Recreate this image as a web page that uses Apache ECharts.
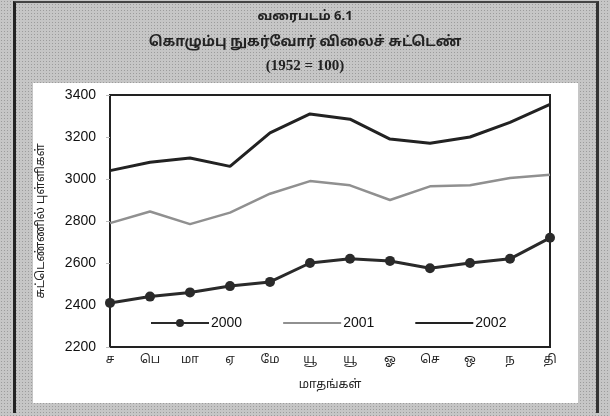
<!DOCTYPE html>
<html>
<head>
<meta charset="utf-8">
<script src="https://cdn.jsdelivr.net/npm/echarts@6/dist/echarts.min.js"></script>
<style>
  html, body { margin: 0; padding: 0; }
  #wrap {
    position: relative; width: 610px; height: 416px; overflow: hidden;
    background-color: #c6c6c6;
    background-image: radial-gradient(#9c9c9c 0.6px, transparent 0.8px);
    background-size: 3px 3px;
  }
  #frame {
    position: absolute; left: 13px; top: 1px; width: 586px; height: 412px;
    border-left: 3px solid #222; border-right: 3px solid #333; border-top: 2px solid #444;
    box-sizing: border-box;
  }
  #panel { position: absolute; left: 33px; top: 83px; width: 545px; height: 320px; background: #fff; }
  #chart { position: absolute; left: 0; top: 0; width: 610px; height: 416px; }
</style>
</head>
<body>
<div id="wrap">
  <div id="frame"></div>
  <div id="panel"></div>
  <div id="chart"></div>
</div>
<script>
const months = ['ச', 'பெ', 'மா', 'ஏ', 'மே', 'யூ', 'யூ', 'ஓ', 'செ', 'ஒ', 'ந', 'தி'];
const seriesNames = ['2000', '2001', '2002'];
const values2000 = [2410, 2440, 2460, 2490, 2510, 2600, 2620, 2610, 2575, 2600, 2620, 2720];
const values2001 = [2790, 2845, 2785, 2840, 2930, 2990, 2970, 2900, 2965, 2970, 3005, 3020];
const values2002 = [3040, 3080, 3100, 3060, 3220, 3310, 3285, 3190, 3170, 3200, 3270, 3355];

const tamilFont = "'Noto Sans Tamil', 'Lohit Tamil', 'Latha', 'Noto Sans', sans-serif";
const numFont = "'Liberation Sans', Arial, sans-serif";

const chart = echarts.init(document.getElementById('chart'));

const option = {
  animation: false,
  title: [
    {
      text: 'வரைபடம் 6.1', left: 'center', top: 6,
      textStyle: { fontFamily: tamilFont, fontSize: 13, fontWeight: 'bold', color: '#222' }
    },
    {
      text: 'கொழும்பு நுகர்வோர் விலைச் சுட்டெண்', left: 'center', top: 31,
      textStyle: { fontFamily: tamilFont, fontSize: 14, fontWeight: 'bold', color: '#222' }
    },
    {
      text: '(1952 = 100)', left: 'center', top: 54,
      textStyle: { fontFamily: "'Liberation Serif', serif", fontSize: 15, fontWeight: 'bold', color: '#222' }
    }
  ],
  legend: {
    left: 145,
    top: 311,
    itemWidth: 58,
    itemHeight: 10,
    itemGap: 40,
    textStyle: { fontFamily: numFont, fontSize: 14, color: '#111', padding: [0, 0, 0, -3] },
    data: [
      { name: seriesNames[0] },
      { name: seriesNames[1], itemStyle: { opacity: 0 } },
      { name: seriesNames[2], itemStyle: { opacity: 0 } }
    ]
  },
  grid: {
    left: 110,
    right: 60,
    top: 95,
    bottom: 69,
    show: true,
    borderColor: '#222',
    borderWidth: 2,
    backgroundColor: 'transparent'
  },
  xAxis: {
    type: 'category',
    data: months,
    boundaryGap: false,
    name: 'மாதங்கள்',
    nameLocation: 'middle',
    nameGap: 33,
    nameTextStyle: { fontFamily: tamilFont, fontSize: 12, color: '#222' },
    axisLine: { lineStyle: { color: '#222', width: 2 } },
    axisTick: { show: false },
    axisLabel: { fontFamily: tamilFont, fontSize: 12, color: '#222', margin: 8 },
    splitLine: { show: false }
  },
  yAxis: {
    type: 'value',
    min: 2200,
    max: 3400,
    interval: 200,
    name: 'சுட்டெண்ணில் புள்ளிகள்',
    nameLocation: 'middle',
    nameRotate: 90,
    nameGap: 62,
    nameTextStyle: { fontFamily: tamilFont, fontSize: 12, color: '#222' },
    axisLine: { show: true, lineStyle: { color: '#222', width: 2 } },
    axisTick: { show: true, length: 4, lineStyle: { color: '#bbb' } },
    axisLabel: { fontFamily: numFont, fontSize: 14, color: '#111', margin: 14, formatter: v => String(v) },
    splitLine: { show: false }
  },
  series: [
    {
      name: seriesNames[0],
      type: 'line',
      data: values2000,
      symbol: 'circle',
      symbolSize: 10,
      showSymbol: true,
      itemStyle: { color: '#2a2a2a' },
      lineStyle: { color: '#2a2a2a', width: 3 }
    },
    {
      name: seriesNames[1],
      type: 'line',
      data: values2001,
      symbol: 'none',
      itemStyle: { color: '#909090' },
      lineStyle: { color: '#909090', width: 2.5 }
    },
    {
      name: seriesNames[2],
      type: 'line',
      data: values2002,
      symbol: 'none',
      itemStyle: { color: '#222' },
      lineStyle: { color: '#222', width: 3 }
    }
  ]
};

chart.setOption(option);
</script>
</body>
</html>
